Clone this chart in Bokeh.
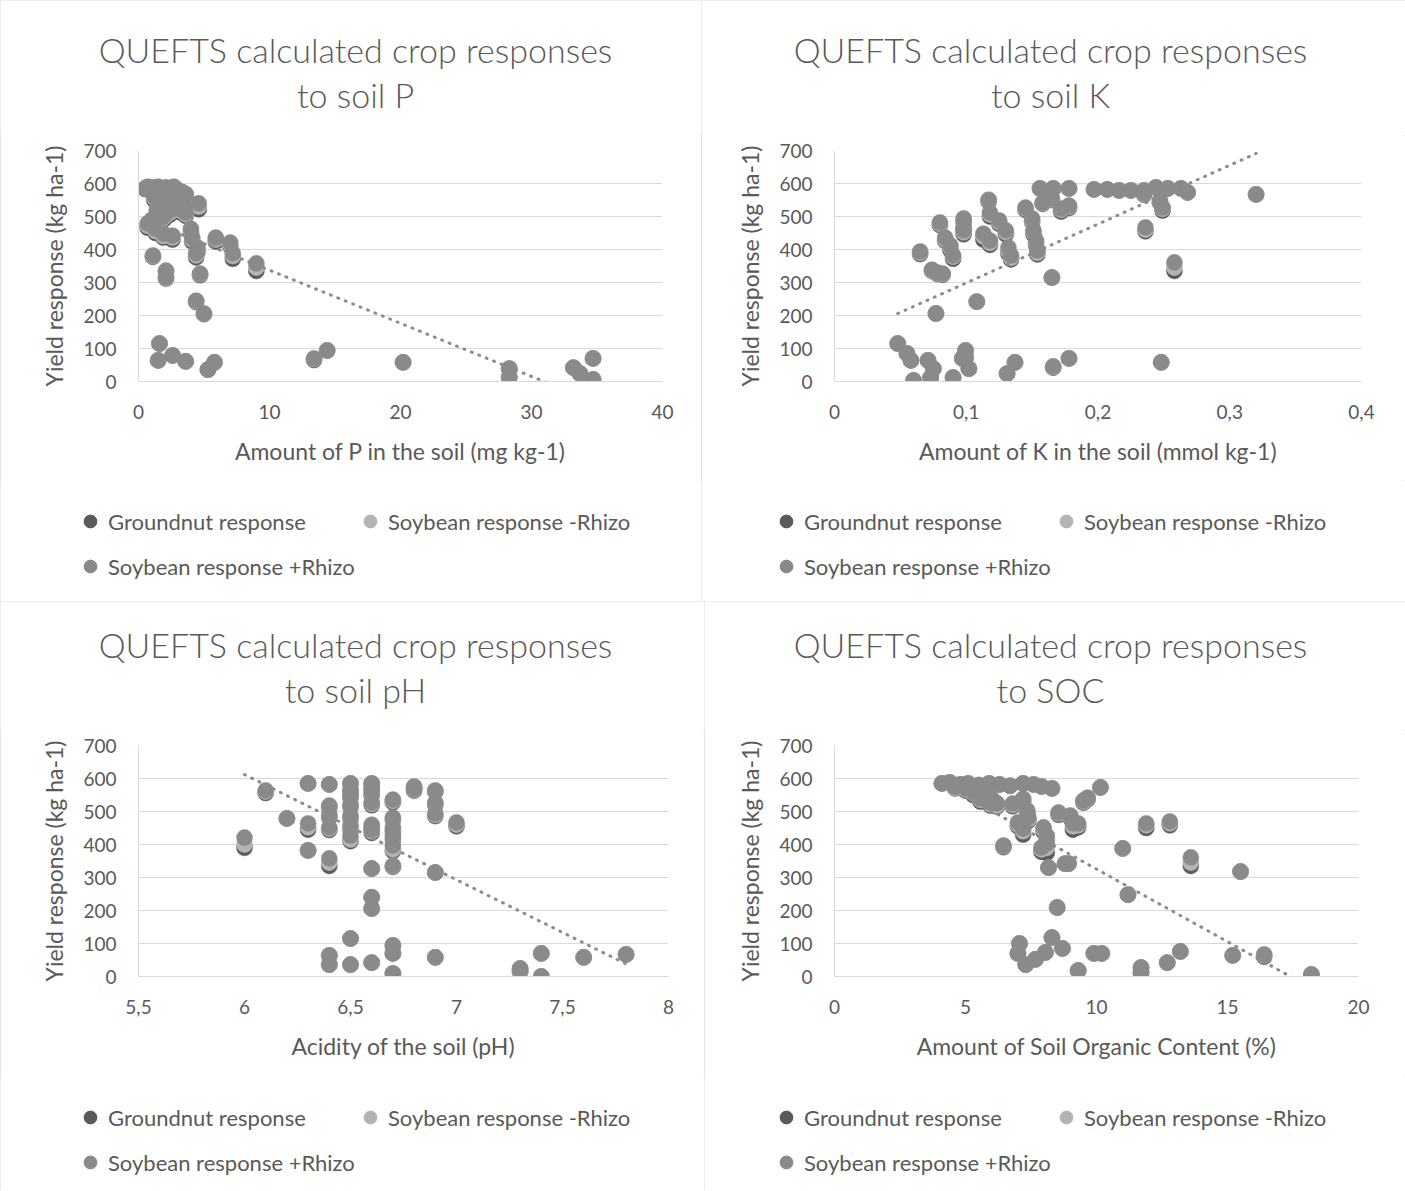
from bokeh.plotting import figure
from bokeh.models import (Range1d, FixedTicker, CustomJSTickFormatter, Label,
                          Legend, LegendItem)
from bokeh.layouts import column, row
from bokeh.embed import file_html
from bokeh.resources import INLINE

# ---------------- data ----------------
y_ticks = [0, 100, 200, 300, 400, 500, 600, 700]
y_tick_labels = ["0", "100", "200", "300", "400", "500", "600", "700"]
legend_labels = ["Groundnut response", "Soybean response -Rhizo", "Soybean response +Rhizo"]

# Panel 1: soil P
p_title = ["QUEFTS calculated crop responses", "to soil P"]
p_xlabel = "Amount of P in the soil (mg kg-1)"
p_xticks = [0, 10, 20, 30, 40]
p_xtick_labels = ["0", "10", "20", "30", "40"]
p_x = [0.5, 0.7, 0.9, 1.1, 1.3, 1.5, 1.7, 1.9, 2.1, 2.4, 2.7, 3.0, 3.3, 3.6,
       1.2, 1.6, 2.0, 2.3, 2.6, 2.9, 3.2, 3.5,
       1.4, 2.0, 2.4, 1.8, 1.0,
       0.7, 1.3, 1.9, 2.6,
       3.6, 4.6,
       4.0, 4.1, 4.5, 4.4,
       5.9, 7.0, 7.2, 9.0,
       1.1, 2.1, 2.1, 4.7, 4.4, 5.0,
       1.6, 1.5, 2.6, 3.6, 5.3, 5.8,
       13.4, 14.4, 20.2, 28.3, 28.3, 33.2, 33.7, 34.7, 34.7]
p_soy_plus = [585, 590, 580, 588, 582, 590, 585, 578, 588, 583, 590, 580, 575, 568,
              560, 548, 540, 552, 530, 545, 522, 530,
              520, 505, 518, 497, 490,
              479, 463, 448, 442,
              512, 540,
              463, 436, 406, 388,
              436, 421, 388, 358,
              382, 336, 316, 327, 245, 206,
              115, 64, 79, 61, 36, 58,
              70, 94, 58, 39, 13, 42, 24, 70, 6]
p_soy_minus = [585, 590, 580, 588, 582, 590, 585, 578, 588, 583, 590, 580, 575, 568,
               556, 545, 536, 548, 526, 540, 518, 526,
               514, 500, 512, 492, 486,
               472, 456, 441, 436,
               507, 530,
               456, 430, 400, 382,
               430, 415, 380, 345,
               380, 334, 314, 325, 243, 205,
               115, 64, 79, 61, 36, 58,
               68, 94, 58, 39, 13, 42, 24, 70, 6]
p_groundnut = [583, 588, 578, 586, 580, 588, 583, 576, 586, 581, 588, 578, 572, 565,
               550, 540, 530, 542, 520, 534, 512, 520,
               508, 494, 506, 486, 480,
               466, 450, 436, 430,
               502, 522,
               450, 424, 394, 376,
               424, 410, 372, 335,
               378, 332, 312, 322, 241, 204,
               115, 64, 79, 61, 36, 58,
               65, 94, 58, 39, 13, 42, 24, 70, 6]
p_trend_x = [0.5, 34.7]
p_trend_y = [490, -60]

# Panel 2: soil K
k_title = ["QUEFTS calculated crop responses", "to soil K"]
k_xlabel = "Amount of K in the soil (mmol kg-1)"
k_xticks = [0, 0.1, 0.2, 0.3, 0.4]
k_xtick_labels = ["0", "0,1", "0,2", "0,3", "0,4"]
k_x = [0.048, 0.055, 0.058, 0.060, 0.071, 0.075, 0.073, 0.090, 0.0995, 0.0995, 0.102, 0.097,
       0.131, 0.137, 0.166, 0.178, 0.248,
       0.077, 0.108, 0.165,
       0.065, 0.074, 0.078, 0.082,
       0.080, 0.084, 0.088, 0.090,
       0.098, 0.098, 0.098,
       0.117, 0.118, 0.113, 0.118, 0.125, 0.130, 0.132, 0.134,
       0.145, 0.150, 0.151, 0.153, 0.154,
       0.156, 0.166, 0.178, 0.158, 0.165, 0.172, 0.178, 0.197, 0.207,
       0.216, 0.225, 0.235, 0.244, 0.253, 0.263, 0.268, 0.249, 0.247, 0.235,
       0.236, 0.258, 0.320]
k_soy_plus = [115, 85, 64, 3, 64, 39, 12, 12, 94, 73, 39, 70, 24, 58, 46, 70, 58,
              206, 242, 315,
              394, 339, 330, 327,
              482, 436, 412, 382,
              494, 458, 470,
              551, 512, 448, 427, 488, 458, 406, 382,
              527, 494, 458, 427, 397,
              585, 585, 585, 542, 555, 524, 533, 582, 582,
              579, 579, 579, 588, 585, 585, 573, 527, 548, 570,
              467, 361, 567]
k_soy_minus = [115, 85, 64, 3, 64, 39, 12, 12, 94, 73, 39, 70, 24, 58, 44, 70, 58,
               206, 242, 315,
               390, 337, 328, 325,
               478, 430, 405, 378,
               490, 452, 465,
               548, 506, 440, 420, 483, 452, 395, 375,
               524, 488, 452, 420, 390,
               585, 585, 585, 540, 552, 520, 530, 582, 582,
               579, 579, 579, 588, 585, 585, 573, 523, 545, 568,
               460, 345, 567]
k_groundnut = [115, 85, 64, 3, 64, 39, 12, 12, 94, 73, 39, 70, 24, 58, 42, 70, 58,
               206, 242, 315,
               386, 335, 326, 323,
               474, 426, 398, 372,
               485, 446, 460,
               545, 500, 430, 414, 478, 446, 388, 370,
               520, 484, 446, 414, 385,
               585, 585, 585, 538, 550, 515, 526, 582, 582,
               579, 579, 579, 588, 585, 585, 573, 518, 542, 566,
               455, 335, 567]
k_trend_x = [0.048, 0.320]
k_trend_y = [206, 691]

# Panel 3: soil pH
ph_title = ["QUEFTS calculated crop responses", "to soil pH"]
ph_xlabel = "Acidity of the soil (pH)"
ph_xticks = [5.5, 6, 6.5, 7, 7.5, 8]
ph_xtick_labels = ["5,5", "6", "6,5", "7", "7,5", "8"]
ph_x = [6.0, 6.1, 6.2,
        6.3, 6.3, 6.3,
        6.4, 6.4, 6.4, 6.4, 6.4, 6.4, 6.4,
        6.5, 6.5, 6.5, 6.5, 6.5, 6.5, 6.5, 6.5, 6.5,
        6.6, 6.6, 6.6, 6.6, 6.6, 6.6, 6.6, 6.6, 6.6, 6.6,
        6.7, 6.7, 6.7, 6.7, 6.7, 6.7, 6.7, 6.7, 6.7,
        6.8, 6.8,
        6.9, 6.9, 6.9, 6.9, 6.9,
        7.0,
        7.3, 7.3, 7.4, 7.4, 7.6, 7.8]
ph_soy_plus = [421, 564, 479,
               585, 464, 382,
               582, 518, 490, 452, 358, 64, 36,
               585, 565, 548, 520, 488, 458, 427, 115, 36,
               585, 570, 555, 527, 460, 445, 327, 240, 206, 42,
               536, 482, 452, 427, 397, 336, 94, 70, 9,
               576, 567,
               564, 527, 494, 315, 58,
               467,
               24, 15, 70, 0, 58, 67]
ph_soy_minus = [400, 560, 479,
                585, 452, 382,
                582, 515, 486, 448, 345, 64, 36,
                585, 563, 545, 517, 483, 452, 415, 115, 36,
                585, 568, 552, 523, 455, 440, 327, 240, 206, 42,
                532, 478, 446, 420, 385, 334, 94, 70, 9,
                574, 565,
                562, 523, 490, 315, 58,
                460,
                24, 15, 70, 0, 58, 67]
ph_groundnut = [390, 556, 479,
                585, 445, 382,
                582, 512, 482, 444, 335, 64, 36,
                585, 561, 542, 514, 478, 446, 410, 115, 36,
                585, 566, 549, 519, 450, 435, 327, 240, 206, 42,
                528, 474, 440, 414, 380, 332, 94, 70, 9,
                572, 563,
                560, 520, 486, 315, 58,
                455,
                24, 15, 70, 0, 58, 67]
ph_trend_x = [6.0, 7.8]
ph_trend_y = [612, 38]

# Panel 4: SOC
soc_title = ["QUEFTS calculated crop responses", "to SOC"]
soc_xlabel = "Amount of Soil Organic Content (%)"
soc_xticks = [0, 5, 10, 15, 20]
soc_xtick_labels = ["0", "5", "10", "15", "20"]
soc_x = [4.1, 4.4, 4.8, 5.1, 5.5, 5.9, 6.3, 6.7, 7.2, 7.6, 7.9, 8.3,
         4.6, 5.0, 5.3, 5.6, 6.0, 6.2, 5.57, 5.95, 6.8, 7.2, 7.36, 7.4, 7.0, 7.2, 7.98, 8.1, 8.1, 7.9, 6.45,
         9.66, 9.5, 10.15, 8.55, 9.0, 9.1, 9.3,
         8.17, 8.8, 8.93,
         8.5, 7.06, 7.0, 7.3, 7.67, 8.05, 8.3, 8.7, 9.3, 9.9, 10.2,
         11.9, 12.8, 11.0, 13.6, 15.5, 11.2, 11.7, 11.7, 12.7, 13.2, 15.2, 16.4, 18.2]
soc_soy_plus = [585, 588, 582, 585, 580, 585, 582, 578, 585, 582, 576, 570,
                575, 570, 560, 548, 540, 525, 539, 527, 524, 539, 503, 482, 467, 448, 452, 427, 403, 391, 397,
                542, 533, 573, 497, 488, 464, 464,
                330, 342, 342,
                209, 100, 70, 36, 52, 73, 118, 85, 18, 70, 70,
                464, 470, 388, 361, 318, 248, 27, 12, 42, 76, 64, 67, 6]
soc_soy_minus = [585, 588, 582, 585, 580, 585, 582, 578, 585, 582, 576, 570,
                 572, 566, 555, 543, 533, 518, 535, 522, 520, 535, 498, 476, 460, 440, 445, 420, 390, 385, 395,
                 540, 530, 573, 494, 484, 455, 458,
                 330, 342, 342,
                 209, 100, 70, 36, 52, 73, 118, 85, 18, 70, 70,
                 458, 464, 388, 345, 318, 248, 27, 12, 42, 76, 64, 64, 6]
soc_groundnut = [585, 588, 582, 585, 580, 585, 582, 578, 585, 582, 576, 570,
                 570, 563, 550, 538, 525, 515, 530, 518, 516, 530, 495, 472, 455, 430, 438, 414, 375, 378, 392,
                 537, 527, 573, 490, 480, 445, 452,
                 330, 342, 342,
                 209, 100, 70, 36, 52, 73, 118, 85, 18, 70, 70,
                 450, 458, 388, 335, 318, 248, 27, 12, 42, 76, 64, 60, 6]
soc_trend_x = [4.1, 18.2]
soc_trend_y = [585, -35]

# ---------------- style ----------------
FONT = "Lato"
TITLE_FONT = "Lato Light, Lato"
TXT = "#595959"
GRID = "#d9d9d9"
COLORS = ["#5a5a5a", "#b4b4b4", "#8a8a8a"]   # groundnut, soy -Rhizo, soy +Rhizo
C_TR = "#8c8c8c"
Y_LABEL = "Yield response (kg ha-1)"
BORDER = {"outline": "1px solid #d9d9d9", "outline-offset": "-1px"}
NAN = float("nan")


def tick_formatter(tvals, tlabels):
    return CustomJSTickFormatter(args=dict(tvals=tvals, tlabels=tlabels), code="""
        let best = 0, d = Infinity;
        for (let i = 0; i < tvals.length; i++) {
            const e = Math.abs(tvals[i] - tick);
            if (e < d) { d = e; best = i; }
        }
        return tlabels[best];
    """)


def blank(width, height):
    f = figure(width=width, height=height, x_range=Range1d(0, width), y_range=Range1d(0, height),
               x_axis_type=None, y_axis_type=None, output_backend="svg",
               toolbar_location=None, min_border=0)
    f.frame_align = False
    f.outline_line_color = None
    f.background_fill_color = "white"
    f.border_fill_color = "white"
    return f


def make_head(title, width, height, cx):
    h = blank(width, height)
    for txt, y in ((title[0], 86), (title[1], 41)):
        h.add_layout(Label(x=cx, y=y, text=txt, text_align="center", text_baseline="middle",
                           text_font=TITLE_FONT, text_font_size="34px", text_color=TXT))
    return h


def make_body(xlabel, xticks, xlabels, xs, series, tx, ty, width, left, right):
    p = figure(width=width, height=345,
               x_range=Range1d(xticks[0], xticks[-1]), y_range=Range1d(0, 700),
               output_backend="svg", toolbar_location=None,
               min_border_left=left, min_border_right=right,
               min_border_top=15, min_border_bottom=99)
    p.frame_align = False
    p.outline_line_color = None
    p.background_fill_color = "white"
    p.border_fill_color = "white"
    p.xgrid.visible = False
    p.ygrid.grid_line_color = GRID
    p.ygrid.grid_line_width = 1

    for ax in (p.xaxis[0], p.yaxis[0]):
        ax.axis_line_color = GRID
        ax.axis_line_width = 1
        ax.major_tick_line_color = None
        ax.minor_tick_line_color = None
        ax.major_tick_out = 0
        ax.major_tick_in = 0
        ax.minor_tick_out = 0
        ax.minor_tick_in = 0
        ax.major_label_text_font = FONT
        ax.major_label_text_font_size = "19px"
        ax.major_label_text_color = TXT
        ax.axis_label_text_font = FONT
        ax.axis_label_text_font_size = "23px"
        ax.axis_label_text_color = TXT
        ax.axis_label_text_font_style = "normal"

    p.xaxis.ticker = FixedTicker(ticks=xticks)
    p.xaxis.formatter = tick_formatter(xticks, xlabels)
    p.xaxis.major_label_standoff = 23
    p.xaxis.axis_label = xlabel
    p.xaxis.axis_label_standoff = 15

    p.yaxis.ticker = FixedTicker(ticks=y_ticks)
    p.yaxis.formatter = tick_formatter(y_ticks, y_tick_labels)
    p.yaxis.major_label_standoff = 22
    p.yaxis.axis_label = Y_LABEL
    p.yaxis.axis_label_standoff = 12

    for ys, c in zip(series, COLORS):
        p.scatter(xs, ys, size=16, fill_color=c, line_color=c, line_width=0.5)
    p.line(tx, ty, line_color=C_TR, line_width=3, line_dash="1 7", line_cap="round")
    return p


def make_foot(width, height, spots):
    f = blank(width, height)
    for lab, c, (lx, ly) in zip(legend_labels, COLORS, spots):
        # legend key only: a renderer whose single point is not a number (draws nothing)
        r = f.scatter(x=[NAN], y=[NAN], size=16, fill_color=c, line_color=c)
        lg = Legend(items=[LegendItem(label=lab, renderers=[r])], location=(lx, ly),
                    orientation="horizontal", border_line_color=None, background_fill_alpha=0,
                    label_text_font=FONT, label_text_font_size="22px", label_text_color=TXT,
                    glyph_width=32, glyph_height=32, label_standoff=2,
                    padding=0, margin=0)
        f.add_layout(lg, "center")
    return f


def make_panel(title, xlabel, xticks, xlabels, xs, series, tx, ty,
               width, head_h, foot_h, left, right, cx, spots):
    col = column(make_head(title, width, head_h, cx),
                 make_body(xlabel, xticks, xlabels, xs, series, tx, ty, width, left, right),
                 make_foot(width, foot_h, spots), spacing=0)
    col.styles = BORDER
    return col


panel_p = make_panel(p_title, p_xlabel, p_xticks, p_xtick_labels, p_x,
                     [p_groundnut, p_soy_minus, p_soy_plus], p_trend_x, p_trend_y,
                     701, 135, 121, 138, 39, 355, [(74, 64), (354, 64), (74, 19)])
panel_k = make_panel(k_title, k_xlabel, k_xticks, k_xtick_labels, k_x,
                     [k_groundnut, k_soy_minus, k_soy_plus], k_trend_x, k_trend_y,
                     704, 135, 121, 133, 44, 349, [(69, 64), (349, 64), (69, 19)])
panel_ph = make_panel(ph_title, ph_xlabel, ph_xticks, ph_xtick_labels, ph_x,
                      [ph_groundnut, ph_soy_minus, ph_soy_plus], ph_trend_x, ph_trend_y,
                      704, 129, 115, 138, 36, 355, [(74, 57), (354, 57), (74, 12)])
panel_soc = make_panel(soc_title, soc_xlabel, soc_xticks, soc_xtick_labels, soc_x,
                       [soc_groundnut, soc_soy_minus, soc_soy_plus], soc_trend_x, soc_trend_y,
                       701, 129, 115, 130, 47, 346, [(66, 57), (346, 57), (66, 12)])

layout = column(row(panel_p, panel_k, spacing=0), row(panel_ph, panel_soc, spacing=0), spacing=0)
open("out.html", "w").write(file_html(layout, INLINE))
